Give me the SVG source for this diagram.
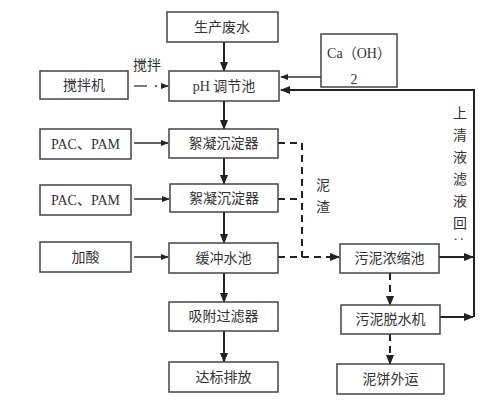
<svg xmlns="http://www.w3.org/2000/svg" width="497" height="405" viewBox="0 0 497 405">
<style>
.box{fill:#fff;stroke:#444;stroke-width:1.5}
.t{font-family:"Liberation Serif","Noto Sans CJK SC",serif;font-size:14px;fill:#333;text-anchor:middle;dominant-baseline:central}
.thick{stroke:#222;stroke-width:2;fill:none}
.thin{stroke:#333;stroke-width:1.3;fill:none}
.dash{stroke:#222;stroke-width:2;fill:none;stroke-dasharray:7,5}
</style>
<defs>
<marker id="ah" viewBox="0 0 10 10" refX="9" refY="5" markerWidth="10" markerHeight="10" markerUnits="userSpaceOnUse" orient="auto">
<path d="M0,1 L10,5 L0,9 Z" fill="#222"/>
</marker>
<marker id="ahs" viewBox="0 0 10 10" refX="9" refY="5" markerWidth="8" markerHeight="8" markerUnits="userSpaceOnUse" orient="auto">
<path d="M0,1 L10,5 L0,9 Z" fill="#222"/>
</marker>
<clipPath id="vclip"><rect x="440" y="95" width="40" height="145"/></clipPath>
</defs>
<rect width="497" height="405" fill="#fff"/>

<g id="connectors">
<line class="thick" x1="224" y1="42" x2="224" y2="71" marker-end="url(#ah)"/>
<line class="thick" x1="224" y1="101" x2="224" y2="129" marker-end="url(#ah)"/>
<line class="thick" x1="224" y1="158" x2="224" y2="184" marker-end="url(#ah)"/>
<line class="thick" x1="224" y1="212" x2="224" y2="243" marker-end="url(#ah)"/>
<line class="thick" x1="224" y1="273" x2="224" y2="302" marker-end="url(#ah)"/>
<line class="thick" x1="224" y1="331" x2="224" y2="362" marker-end="url(#ah)"/>
<line class="thin" x1="134" y1="143" x2="168" y2="143" marker-end="url(#ahs)"/>
<line class="thin" x1="134" y1="199" x2="169" y2="199" marker-end="url(#ahs)"/>
<line class="thin" x1="134" y1="257" x2="168" y2="257" marker-end="url(#ahs)"/>
<line class="thin" x1="134" y1="86" x2="147" y2="86" stroke-width="2"/>
<line class="thin" x1="155" y1="86" x2="168" y2="86" stroke-dasharray="2,4" marker-end="url(#ahs)"/>
<line class="thin" x1="321" y1="77" x2="281" y2="77" stroke-width="1.5" marker-end="url(#ahs)"/>
<polyline class="thick" points="474,317 474,90 281,90" marker-end="url(#ah)"/>
<line class="thick" x1="439" y1="257" x2="473" y2="257" marker-end="url(#ah)"/>
<line class="thick" x1="440" y1="317" x2="473" y2="317" marker-end="url(#ah)"/>
<polyline class="dash" points="278,143 302,143 302,257"/>
<line class="dash" x1="278" y1="199" x2="302" y2="199"/>
<line class="dash" x1="278" y1="257" x2="339" y2="257" marker-end="url(#ah)"/>
<line class="dash" x1="390" y1="273" x2="390" y2="305" marker-end="url(#ah)"/>
<line class="dash" x1="390" y1="334" x2="390" y2="364" marker-end="url(#ah)"/>
<text class="t" x="147" y="65" font-size="13">搅拌</text>
<text class="t" x="323" y="185">泥</text>
<text class="t" x="323" y="207">渣</text>
<g clip-path="url(#vclip)">
<text class="t" x="460" y="113">上</text>
<text class="t" x="460" y="135">清</text>
<text class="t" x="460" y="157">液</text>
<text class="t" x="460" y="179">滤</text>
<text class="t" x="460" y="201">液</text>
<text class="t" x="460" y="223">回</text>
<text class="t" x="460" y="245">流</text>
</g>
</g>

<g id="n1"><rect class="box" x="167" y="12" width="111" height="30"/><text class="t" x="222" y="27">生产废水</text></g>
<g id="n2"><rect class="box" x="169" y="71" width="110" height="30"/><text class="t" x="224" y="86">pH 调节池</text></g>
<g id="n3"><rect class="box" x="40" y="71" width="88" height="28"/><text class="t" x="84" y="85">搅拌机</text></g>
<g id="n4"><rect class="box" x="321" y="34" width="76" height="53"/><text class="t" x="359" y="53">Ca（OH）</text><text class="t" x="354" y="79" font-size="9">2</text></g>
<g id="n5"><rect class="box" x="40" y="129" width="91" height="30"/><text class="t" x="85.5" y="144">PAC、PAM</text></g>
<g id="n6"><rect class="box" x="169" y="129" width="109" height="29"/><text class="t" x="223.5" y="143.5">絮凝沉淀器</text></g>
<g id="n7"><rect class="box" x="40" y="185" width="91" height="30"/><text class="t" x="85.5" y="200">PAC、PAM</text></g>
<g id="n8"><rect class="box" x="170" y="184" width="108" height="28"/><text class="t" x="224" y="198">絮凝沉淀器</text></g>
<g id="n9"><rect class="box" x="40" y="242" width="91" height="30"/><text class="t" x="85.5" y="257">加酸</text></g>
<g id="n10"><rect class="box" x="169" y="243" width="109" height="30"/><text class="t" x="223.5" y="258">缓冲水池</text></g>
<g id="n11"><rect class="box" x="169" y="302" width="109" height="29"/><text class="t" x="223.5" y="316.5">吸附过滤器</text></g>
<g id="n12"><rect class="box" x="169" y="362" width="109" height="30"/><text class="t" x="223.5" y="377">达标排放</text></g>
<g id="n13"><rect class="box" x="340" y="244" width="99" height="29"/><text class="t" x="389.5" y="258.5">污泥浓缩池</text></g>
<g id="n14"><rect class="box" x="341" y="305" width="99" height="29"/><text class="t" x="390.5" y="319.5">污泥脱水机</text></g>
<g id="n15"><rect class="box" x="337" y="364" width="107" height="30"/><text class="t" x="390.5" y="379">泥饼外运</text></g>
</svg>
